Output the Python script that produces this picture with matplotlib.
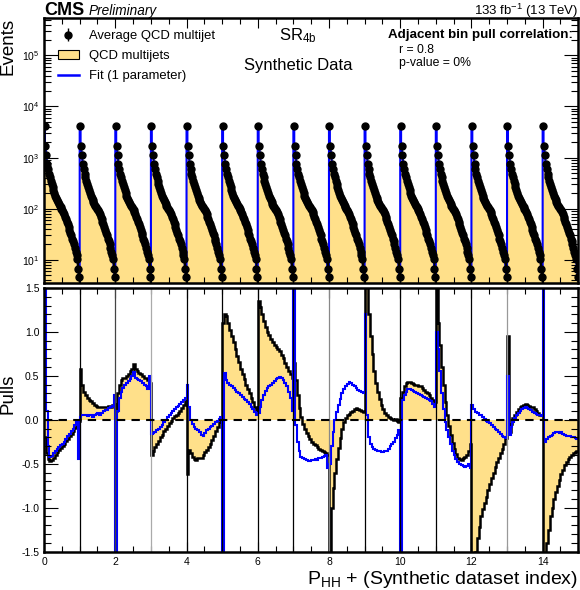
import numpy as np
import matplotlib
matplotlib.use("Agg")
import matplotlib.pyplot as plt
from matplotlib.patches import Patch
from matplotlib.lines import Line2D
from matplotlib.ticker import MultipleLocator, LogLocator, NullFormatter

plt.rcParams["font.family"] = ["Liberation Sans", "DejaVu Sans"]
plt.rcParams["mathtext.fontset"] = "custom"
plt.rcParams["mathtext.rm"] = "Liberation Sans"
plt.rcParams["mathtext.it"] = "Liberation Sans:italic"
plt.rcParams["mathtext.bf"] = "Liberation Sans:bold"

# --- data ---
n_datasets = 15

# average QCD multijet events in one synthetic dataset (40 bins, same shape each time)
events_per_dataset = [4200, 1700, 1150, 760, 600, 480, 410, 355, 310, 270,
                      235, 205, 180, 160, 148, 135, 125, 115, 108, 100,
                      93, 85, 78, 70, 62, 55, 50, 44, 38, 34,
                      30, 26, 23, 20, 17, 14.5, 12.5, 10.5, 6.7, 4.6]

# pulls, 20 bins per synthetic dataset
pulls_qcd = [
    [-0.20, -0.38, -0.45, -0.47, -0.46, -0.43, -0.40, -0.37, -0.34, -0.32, -0.30, -0.27, -0.24, -0.22, -0.19, -0.16, -0.13, -0.09, -0.05, -0.01],
    [0.58, 0.40, 0.32, 0.28, 0.25, 0.23, 0.21, 0.19, 0.17, 0.16, 0.15, 0.15, 0.14, 0.15, 0.14, 0.15, 0.16, 0.15, 0.17, 0.18],
    [0.10, 0.30, 0.40, 0.45, 0.47, 0.48, 0.50, 0.52, 0.55, 0.58, 0.63, 0.58, 0.55, 0.53, 0.52, 0.50, 0.48, 0.47, 0.45, 0.42],
    [-0.40, -0.35, -0.31, -0.27, -0.24, -0.20, -0.17, -0.13, -0.10, -0.07, -0.04, -0.01, 0.02, 0.04, 0.06, 0.08, 0.10, 0.13, 0.17, 0.22],
    [-0.62, -0.34, -0.38, -0.42, -0.45, -0.46, -0.44, -0.43, -0.44, -0.40, -0.37, -0.34, -0.31, -0.27, -0.23, -0.18, -0.13, -0.08, -0.03, 0.01],
    [1.10, 1.20, 1.18, 1.10, 1.02, 0.95, 0.88, 0.80, 0.73, 0.66, 0.58, 0.52, 0.46, 0.40, 0.35, 0.30, 0.25, 0.20, 0.15, 0.10],
    [1.35, 1.28, 1.20, 1.12, 1.05, 1.00, 0.96, 0.92, 0.88, 0.85, 0.83, 0.81, 0.78, 0.74, 0.70, 0.65, 0.60, 0.56, 0.52, 0.48],
    [0.65, 0.45, 0.28, 0.13, 0.03, -0.05, -0.10, -0.15, -0.19, -0.22, -0.25, -0.27, -0.29, -0.31, -0.33, -0.34, -0.36, -0.37, -0.38, -0.40],
    [-1.60, -1.00, -0.78, -0.60, -0.45, -0.32, -0.21, -0.11, -0.03, 0.02, 0.05, 0.07, 0.09, 0.10, 0.12, 0.13, 0.12, 0.11, 0.10, 0.09],
    [1.60, 1.60, 1.20, 0.95, 0.75, 0.55, 0.42, 0.32, 0.24, 0.17, 0.12, 0.08, 0.05, 0.03, 0.02, 0.01, 0.00, 0.01, -0.01, -0.02],
    [0.25, 0.32, 0.38, 0.42, 0.43, 0.43, 0.42, 0.41, 0.40, 0.40, 0.39, 0.38, 0.36, 0.34, 0.32, 0.30, 0.28, 0.25, 0.22, 0.20],
    [1.50, 1.10, 0.85, 0.60, 0.40, 0.20, 0.05, -0.07, -0.17, -0.26, -0.33, -0.39, -0.43, -0.45, -0.46, -0.44, -0.42, -0.40, -0.35, -0.28],
    [-1.60, -1.60, -1.50, -1.35, -1.22, -1.10, -1.02, -0.95, -0.88, -0.80, -0.73, -0.66, -0.60, -0.54, -0.48, -0.43, -0.38, -0.33, -0.28, -0.21],
    [0.95, -0.14, -0.05, 0.02, 0.06, 0.09, 0.12, 0.14, 0.16, 0.17, 0.18, 0.17, 0.16, 0.15, 0.14, 0.12, 0.10, 0.08, 0.06, 0.05],
    [-1.60, -1.60, -1.40, -1.25, -1.10, -1.00, -0.90, -0.82, -0.75, -0.68, -0.62, -0.57, -0.52, -0.48, -0.45, -0.42, -0.40, -0.38, -0.37, -0.36],
]

pulls_fit = [
    [1.60, 0.10, -0.30, -0.42, -0.41, -0.38, -0.35, -0.33, -0.31, -0.29, -0.27, -0.25, -0.22, -0.19, -0.16, -0.13, -0.10, -0.06, -0.02, -0.45],
    [0.03, 0.05, 0.06, 0.05, 0.04, 0.06, 0.05, 0.03, 0.05, 0.07, 0.08, 0.06, 0.08, 0.10, 0.11, 0.11, 0.13, 0.14, 0.16, 0.28],
    [-1.60, 0.10, 0.25, 0.32, 0.36, 0.40, 0.42, 0.44, 0.46, 0.50, 0.54, 0.48, 0.46, 0.45, 0.44, 0.42, 0.40, 0.38, 0.35, 0.50],
    [-0.16, -0.15, -0.14, -0.12, -0.10, -0.08, -0.06, -0.03, 0.00, 0.03, 0.05, 0.08, 0.10, 0.12, 0.14, 0.16, 0.18, 0.20, 0.22, 0.25],
    [0.40, 0.15, 0.00, -0.05, -0.08, -0.10, -0.12, -0.14, -0.17, -0.18, -0.15, -0.12, -0.10, -0.08, -0.07, -0.05, -0.03, -0.01, 0.01, 0.03],
    [-1.60, 0.53, 0.45, 0.42, 0.40, 0.38, 0.36, 0.34, 0.32, 0.30, 0.28, 0.26, 0.24, 0.22, 0.20, 0.18, 0.15, 0.12, 0.09, 0.06],
    [0.08, 0.15, 0.22, 0.28, 0.33, 0.36, 0.38, 0.40, 0.42, 0.44, 0.46, 0.48, 0.49, 0.47, 0.45, 0.42, 0.38, 0.32, 0.25, 0.10],
    [1.60, -0.06, -0.25, -0.36, -0.42, -0.44, -0.45, -0.46, -0.47, -0.47, -0.46, -0.46, -0.45, -0.46, -0.44, -0.43, -0.42, -0.41, -0.40, -0.55],
    [-0.50, -0.30, -0.14, 0.00, 0.09, 0.17, 0.24, 0.30, 0.35, 0.39, 0.41, 0.43, 0.42, 0.40, 0.38, 0.36, 0.34, 0.33, 0.32, 0.30],
    [1.20, 0.05, -0.20, -0.27, -0.31, -0.33, -0.34, -0.35, -0.36, -0.37, -0.37, -0.36, -0.35, -0.33, -0.30, -0.28, -0.25, -0.21, -0.17, -0.12],
    [-1.60, 0.22, 0.28, 0.32, 0.35, 0.35, 0.34, 0.33, 0.32, 0.30, 0.29, 0.28, 0.27, 0.26, 0.25, 0.24, 0.23, 0.21, 0.18, 0.15],
    [1.00, 0.80, 0.55, 0.30, 0.12, -0.02, -0.12, -0.20, -0.28, -0.35, -0.40, -0.45, -0.48, -0.50, -0.52, -0.53, -0.54, -0.53, -0.50, -0.55],
    [0.17, 0.12, 0.09, 0.08, 0.06, 0.05, 0.03, 0.01, -0.01, -0.02, -0.04, -0.06, -0.08, -0.10, -0.12, -0.14, -0.16, -0.18, -0.20, -0.21],
    [0.50, -0.17, -0.08, -0.02, 0.02, 0.05, 0.08, 0.10, 0.12, 0.13, 0.14, 0.13, 0.12, 0.11, 0.09, 0.08, 0.07, 0.06, 0.05, 0.04],
    [1.60, -0.25, -0.22, -0.20, -0.18, -0.17, -0.15, -0.14, -0.14, -0.15, -0.14, -0.16, -0.17, -0.18, -0.18, -0.19, -0.20, -0.20, -0.21, -0.22],
]

boundary_colors = ["k", "#444444", "#aaaaaa", "k", "k", "k", "k", "#888888",
                   "k", "k", "k", "k", "#999999", "k"]

yellow = "#ffe08a"
blue = "#0000ff"

# --- binning ---
events = np.tile(events_per_dataset, n_datasets)
top_edges = np.linspace(0, n_datasets, len(events) + 1)
top_centers = 0.5 * (top_edges[1:] + top_edges[:-1])

qcd = np.concatenate(pulls_qcd)
fit = np.concatenate(pulls_fit)
pull_edges = np.linspace(0, n_datasets, len(qcd) + 1)

fig = plt.figure(figsize=(5.8, 5.9), dpi=100)
ax1 = fig.add_axes([0.076, 0.520, 0.921, 0.449])
ax2 = fig.add_axes([0.076, 0.065, 0.921, 0.447])

# --- top panel ---
ax1.set_yscale("log")
ax1.stairs(events, top_edges, baseline=1.0, fill=True, color=yellow)
ax1.stairs(events, top_edges, baseline=None, color=blue, lw=1.5)
data_pts = ax1.errorbar(top_centers, events, yerr=np.sqrt(events), fmt="o", color="k",
                        ms=5, elinewidth=1, capsize=0)
ax1.set_xlim(0, n_datasets)
ax1.set_ylim(3.5, 5.3e5)
ax1.set_xticklabels([])
ax1.set_ylabel("Events", fontsize=13.5, loc="top")
ax1.yaxis.set_label_coords(-0.052, 1.0)
ax1.yaxis.set_major_locator(LogLocator(base=10, numticks=10))
ax1.yaxis.set_minor_locator(LogLocator(base=10, subs=np.arange(2, 10), numticks=10))
ax1.yaxis.set_minor_formatter(NullFormatter())

handles = [
    data_pts,
    Patch(facecolor=yellow, edgecolor="k", lw=0.8),
    Line2D([], [], color=blue, lw=1.8),
]
ax1.legend(handles, ["Average QCD multijet", "QCD multijets", "Fit (1 parameter)"],
           loc="upper left", bbox_to_anchor=(0.004, 1.0), frameon=False,
           fontsize=9.4, handlelength=1.6, labelspacing=0.6, handletextpad=0.8)

ax1.text(0.475, 0.936, r"SR$_{\rm 4b}$", transform=ax1.transAxes, fontsize=12,
         ha="center", va="center")
ax1.text(0.475, 0.823, "Synthetic Data", transform=ax1.transAxes, fontsize=12,
         ha="center", va="center")
ax1.text(0.990, 0.936, "Adjacent bin pull correlation:", transform=ax1.transAxes,
         fontsize=9.6, fontweight="bold", ha="right", va="center")
ax1.text(0.664, 0.879, "r = 0.8", transform=ax1.transAxes, fontsize=8.8,
         ha="left", va="center")
ax1.text(0.664, 0.830, "p-value = 0%", transform=ax1.transAxes, fontsize=8.8,
         ha="left", va="center")

fig.text(0.076, 0.975, "CMS", fontsize=13, fontweight="bold", ha="left", va="baseline")
fig.text(0.152, 0.975, "Preliminary", fontsize=9.8, style="italic", ha="left", va="baseline")
fig.text(0.997, 0.975, r"133 fb$^{-1}$ (13 TeV)", fontsize=9.5, ha="right", va="baseline")

# --- bottom panel ---
ax2.stairs(qcd, pull_edges, baseline=0, fill=True, color=yellow)
for i, c in enumerate(boundary_colors):
    ax2.axvline(i + 1, color=c, lw=0.9)
ax2.stairs(qcd, pull_edges, baseline=None, color="k", lw=1.8)
ax2.stairs(fit, pull_edges, baseline=None, color=blue, lw=1.5)
ax2.axhline(0, color="k", lw=1.5, ls=(0, (4, 3)))
ax2.set_xlim(0, n_datasets)
ax2.set_ylim(-1.5, 1.5)
ax2.set_ylabel("Pulls", fontsize=13.5)
ax2.yaxis.set_label_coords(-0.052, 0.6)
ax2.set_xlabel(r"P$_{\rm HH}$ + (Synthetic dataset index)", fontsize=14, loc="right")
ax2.xaxis.set_label_coords(1.0, -0.065)
ax2.yaxis.set_major_locator(MultipleLocator(0.5))
ax2.yaxis.set_minor_locator(MultipleLocator(0.1))
ax2.set_yticks([-1.5, -1.0, -0.5, 0.0, 0.5, 1.0, 1.5])
ax2.set_yticklabels(["-1.5", "-1.0", "-0.5", "0.0", "0.5", "1.0", "1.5"])

for ax in (ax1, ax2):
    ax.xaxis.set_major_locator(MultipleLocator(2))
    ax.xaxis.set_minor_locator(MultipleLocator(0.5))
    for s in ax.spines.values():
        s.set_linewidth(1.8)
    ax.tick_params(which="both", direction="in", top=True, right=True, labelsize=7.5, width=0.8)
    ax.tick_params(axis="y", which="major", length=10)
    ax.tick_params(axis="y", which="minor", length=5)
    ax.tick_params(axis="x", which="major", length=7, pad=4)
    ax.tick_params(axis="x", which="minor", length=4)

fig.savefig("out.png", dpi=100)
